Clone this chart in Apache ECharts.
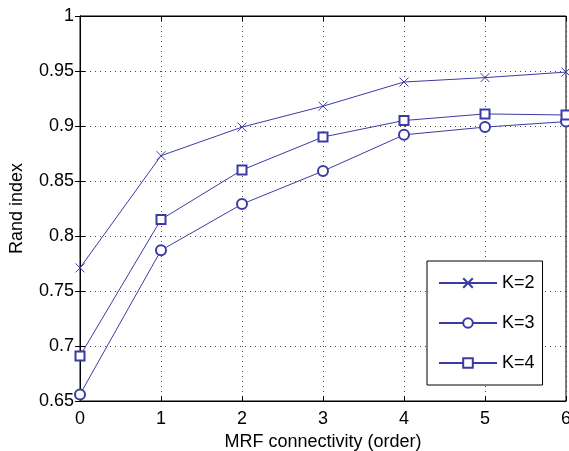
<!DOCTYPE html>
<html>
<head>
<meta charset="utf-8">
<script src="https://cdn.jsdelivr.net/npm/echarts@6/dist/echarts.min.js"></script>
<style>
  html, body { margin: 0; padding: 0; background: #fff; }
  #chart { width: 569px; height: 451px; }
</style>
</head>
<body>
<div id="chart"></div>
<script>
var orders = [0, 1, 2, 3, 4, 5, 6]
var k2 = [0.771, 0.873, 0.899, 0.918, 0.940, 0.944, 0.949]
var k3 = [0.656, 0.787, 0.829, 0.859, 0.892, 0.899, 0.904]
var k4 = [0.691, 0.815, 0.860, 0.890, 0.905, 0.911, 0.910]
var seriesNames = ['K=2', 'K=3', 'K=4']

var blue = '#3b3ba6'
var font = 'Liberation Sans, Arial, Helvetica, sans-serif'

function pairs(ys) {
  return orders.map(function (x, i) { return [x, ys[i]] })
}

var chart = echarts.init(document.getElementById('chart'))

var gridLine = { show: true, lineStyle: { color: '#444', type: [1, 4], width: 1 } }

var option = {
  animation: false,
  textStyle: { fontFamily: font },
  grid: {
    left: 80, right: 3, top: 16, bottom: 50,
    containLabel: false, outerBoundsMode: 'none',
    show: true, borderColor: '#000', borderWidth: 1
  },
  legend: {
    data: seriesNames,
    orient: 'vertical',
    left: 427, top: 261,
    width: 119,
    backgroundColor: '#fff',
    borderColor: '#000',
    borderWidth: 1,
    padding: [13, 8, 13, 11],
    itemWidth: 58,
    itemHeight: 12,
    itemGap: 22,
    textStyle: { fontSize: 18, color: '#000', fontFamily: font }
  },
  xAxis: [{
    type: 'value',
    min: 0, max: 6, interval: 1,
    name: 'MRF connectivity (order)',
    nameLocation: 'middle',
    nameGap: 29,
    nameTextStyle: { fontSize: 18, color: '#000' },
    axisLine: { show: true, onZero: false, lineStyle: { color: '#000' } },
    axisTick: { inside: true, length: 5, lineStyle: { color: '#000' } },
    axisLabel: { fontSize: 18, color: '#000', margin: 9 },
    splitLine: gridLine
  }, {
    type: 'value', position: 'top',
    min: 0, max: 6, interval: 1,
    axisLine: { show: true, lineStyle: { color: '#000' } },
    axisTick: { inside: true, length: 5, lineStyle: { color: '#000' } },
    axisLabel: { show: false },
    splitLine: { show: false }
  }],
  yAxis: [{
    type: 'value',
    min: 0.65, max: 1, interval: 0.05,
    name: 'Rand index',
    nameLocation: 'middle',
    nameGap: 54,
    nameTextStyle: { fontSize: 18, color: '#000' },
    axisLine: { show: true, onZero: false, lineStyle: { color: '#000' } },
    axisTick: { inside: true, length: 5, lineStyle: { color: '#000' } },
    axisLabel: {
      fontSize: 18, color: '#000', margin: 6,
      formatter: function (v) { return String(+v.toFixed(2)) }
    },
    splitLine: gridLine
  }, {
    type: 'value', position: 'right',
    min: 0.65, max: 1, interval: 0.05,
    axisLine: { show: true, lineStyle: { color: '#000' } },
    axisTick: { inside: true, length: 5, lineStyle: { color: '#000' } },
    axisLabel: { show: false },
    splitLine: { show: false }
  }],
  series: [
    {
      name: 'K=2', type: 'line', data: pairs(k2),
      symbol: 'path://M0,0L10,10M10,0L0,10', symbolSize: 9,
      itemStyle: { color: 'none', borderColor: blue, borderWidth: 1 },
      lineStyle: { color: blue, width: 1 }
    },
    {
      name: 'K=3', type: 'line', data: pairs(k3),
      symbol: 'emptyCircle', symbolSize: 10,
      itemStyle: { color: blue, borderColor: blue, borderWidth: 1 },
      lineStyle: { color: blue, width: 1 }
    },
    {
      name: 'K=4', type: 'line', data: pairs(k4),
      symbol: 'emptyRect', symbolSize: 9,
      itemStyle: { color: blue, borderColor: blue, borderWidth: 1 },
      lineStyle: { color: blue, width: 1 }
    }
  ]
}

chart.setOption(option)
</script>
</body>
</html>
